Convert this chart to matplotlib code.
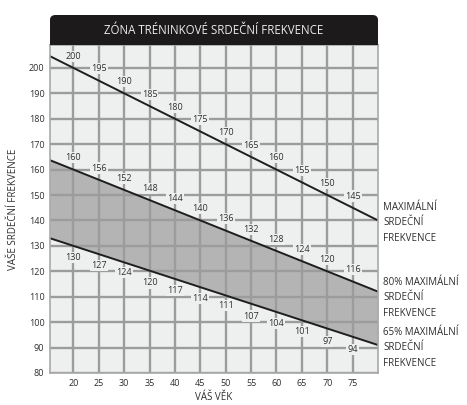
import matplotlib
matplotlib.use('Agg')
import matplotlib.pyplot as plt
from matplotlib.patches import FancyBboxPatch, Rectangle

plt.rcParams['font.family'] = ['Open Sans', 'DejaVu Sans']

# Data
ages = [20, 25, 30, 35, 40, 45, 50, 55, 60, 65, 70, 75]
max_hr = [200, 195, 190, 185, 180, 175, 170, 165, 160, 155, 150, 145]
hr_80 = [160, 156, 152, 148, 144, 140, 136, 132, 128, 124, 120, 116]
hr_65 = [130, 127, 124, 120, 117, 114, 111, 107, 104, 101, 97, 94]

# line ends at the plot edges
edge_ages = [15.4, 80]
edge_max = [204.6, 140]
edge_80 = [163.7, 112]
edge_65 = [133.0, 91]

y_ticks = [80, 90, 100, 110, 120, 130, 140, 150, 160, 170, 180, 190, 200]

bg = '#eef0ef'
grid_col = '#9c9c9c'
text_col = '#2e2e2e'

W, H = 467, 405
fig = plt.figure(figsize=(W / 100, H / 100), dpi=100)
ax = fig.add_axes([50 / W, 1 - 373 / H, 328 / W, (373 - 45) / H])
ax.set_facecolor(bg)

ax.set_xlim(15.4, 80)
ax.set_ylim(80, 209)

# shaded zone between 65% and 80%
ax.fill_between(edge_ages, edge_65, edge_80, color='#b4b4b4', zorder=1, linewidth=0)

for vals in (edge_max, edge_80, edge_65):
    ax.plot(edge_ages, vals, color='#1e1e1e', linewidth=1.4, zorder=2)

ax.set_axisbelow('line')
ax.set_xticks(ages)
ax.set_yticks(y_ticks)
ax.grid(True, color=grid_col, linewidth=1.7)
ax.tick_params(length=0, labelsize=6.5, colors=text_col, pad=4)

# value labels along the lines
lbl = dict(ha='center', va='center', fontsize=6.5, color=text_col, zorder=3,
           bbox=dict(boxstyle='square,pad=0.12', facecolor=bg, edgecolor='none'))
for a, m, h8, h6 in zip(ages, max_hr, hr_80, hr_65):
    ax.text(a, m + 4.6, str(m), **lbl)
    ax.text(a, h8 + 4.6, str(h8), **lbl)
    ax.text(a, h6 - 4.6, str(h6), **lbl)

for s in ax.spines.values():
    s.set_color('#a8a8a8')
    s.set_linewidth(1.2)

ax.set_xlabel('VÁŠ VĚK', fontsize=7, color=text_col, labelpad=3)
ax.set_ylabel('VAŠE SRDEČNÍ FREKVENCE', fontsize=7, color=text_col, labelpad=7)

# header bar
hx0, hx1 = 50 / W, 378 / W
hy0, hy1 = 1 - 45 / H, 1 - 15 / H
fig.patches.append(FancyBboxPatch((hx0, hy0), hx1 - hx0, hy1 - hy0,
                                  boxstyle='round,pad=0,rounding_size=0.012',
                                  transform=fig.transFigure, facecolor='#1c1a1b',
                                  edgecolor='none'))
fig.patches.append(Rectangle((hx0, hy0), hx1 - hx0, (hy1 - hy0) / 2,
                             transform=fig.transFigure, facecolor='#1c1a1b',
                             edgecolor='none'))
fig.text((hx0 + hx1) / 2, (hy0 + hy1) / 2, 'ZÓNA TRÉNINKOVÉ SRDEČNÍ FREKVENCE',
         ha='center', va='center', fontsize=8.3, color='#ececec')

# zone captions on the right
cap = dict(fontsize=7, color=text_col, va='top', ha='left', linespacing=1.55)
fig.text(383 / W, 1 - 202 / H, 'MAXIMÁLNÍ\nSRDEČNÍ\nFREKVENCE', **cap)
fig.text(383 / W, 1 - 277 / H, '80% MAXIMÁLNÍ\nSRDEČNÍ\nFREKVENCE', **cap)
fig.text(383 / W, 1 - 327 / H, '65% MAXIMÁLNÍ\nSRDEČNÍ\nFREKVENCE', **cap)

fig.savefig('out.png', dpi=100)
